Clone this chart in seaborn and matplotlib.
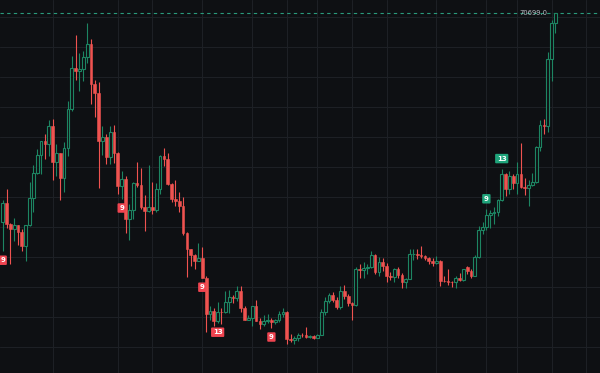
import numpy as np
import pandas as pd
import matplotlib
matplotlib.use("Agg")
import matplotlib.pyplot as plt
import seaborn as sns
from matplotlib.patches import Rectangle

# ---------------- data (weekly candles, thousands of USD) ----------------
week_start = "2021-06-07"
opens = [35.8, 39.0, 35.6, 34.7, 35.3, 34.2, 31.8, 35.3, 39.9, 44.0,
         47.1, 49.3, 48.9, 51.8, 45.9, 47.3, 43.2, 48.2, 54.7, 61.6,
         61.0, 61.4, 63.4, 65.6, 58.8, 57.3, 49.3, 50.1, 46.7, 50.8,
         47.3, 41.8, 43.1, 36.3, 37.9, 42.4, 42.1, 38.3, 37.7, 38.4,
         37.8, 41.3, 46.8, 46.4, 42.2, 39.7, 39.4, 38.5, 34.0, 31.3,
         30.3, 29.4, 29.9, 26.6, 20.6, 21.0, 19.3, 20.9, 20.8, 22.6,
         23.3, 23.2, 24.4, 21.5, 19.55, 19.8, 21.8, 19.4, 18.8, 19.3,
         19.45, 19.2, 19.6, 20.6, 20.9, 16.35, 16.25, 16.45, 17.1, 17.05,
         16.75, 16.85, 16.6, 17.1, 20.9, 22.7, 23.7, 22.9, 21.75, 24.3,
         23.5, 22.4, 22.1, 28.0, 27.8, 28.2, 28.4, 30.3, 27.5, 29.2,
         28.5, 26.9, 26.75, 28.1, 27.1, 25.8, 26.3, 30.5, 30.6, 30.3,
         30.25, 29.8, 29.3, 29.05, 29.4, 26.1, 26.0, 25.85, 25.8, 26.5,
         26.25, 28.3, 27.7, 26.9, 30.0, 34.5, 35.05, 37.1, 37.4, 37.45,
         39.5, 43.9, 41.4, 43.6, 42.3, 43.9, 41.7, 41.6, 42.0, 42.6,
         48.3, 52.1, 51.8, 63.1, 69.0]
highs = [39.5, 41.3, 35.7, 36.6, 35.4, 34.7, 35.4, 42.5, 45.3, 48.1,
         49.4, 50.5, 52.9, 53.0, 48.8, 47.4, 49.2, 56.1, 63.5, 67.1,
         64.0, 64.3, 69.1, 66.3, 59.6, 59.2, 51.9, 50.5, 51.9, 52.1,
         47.6, 44.4, 43.5, 38.9, 42.6, 45.8, 44.8, 40.3, 45.4, 42.6,
         42.3, 47.0, 48.2, 47.4, 42.4, 42.9, 40.8, 40.0, 34.2, 31.3,
         30.6, 32.3, 31.7, 26.9, 21.9, 21.5, 22.5, 21.6, 24.3, 24.6,
         23.7, 25.2, 25.2, 21.8, 20.4, 21.9, 22.8, 19.9, 20.4, 20.5,
         19.9, 19.7, 21.0, 21.5, 21.1, 17.2, 16.8, 17.4, 17.4, 18.4,
         17.0, 16.95, 17.2, 21.4, 23.3, 24.0, 24.2, 23.4, 25.2, 25.3,
         23.9, 22.6, 28.4, 28.9, 29.2, 28.8, 31.0, 30.5, 30.0, 29.8,
         29.0, 27.5, 28.2, 28.4, 27.4, 26.5, 31.4, 31.3, 31.4, 31.8,
         30.4, 30.0, 29.9, 30.2, 29.6, 26.8, 28.1, 26.1, 26.9, 27.4,
         28.0, 28.6, 28.0, 30.4, 35.2, 35.9, 38.0, 37.9, 38.4, 39.7,
         44.7, 43.95, 44.4, 43.8, 45.9, 49.0, 43.2, 42.9, 44.0, 48.6,
         52.8, 53.1, 64.2, 69.5, 70.7]
lows = [31.0, 34.8, 28.8, 32.7, 32.1, 31.0, 29.3, 35.2, 37.5, 43.8,
        43.9, 46.4, 46.8, 42.8, 43.5, 39.6, 40.8, 46.9, 54.4, 59.6,
        57.7, 59.4, 62.3, 55.6, 53.4, 41.5, 47.1, 45.5, 45.6, 45.7,
        40.6, 39.7, 34.0, 32.9, 36.3, 41.7, 38.0, 34.3, 37.5, 37.2,
        37.6, 40.5, 45.2, 42.1, 39.2, 38.5, 37.6, 33.7, 26.7, 28.6,
        28.0, 29.3, 26.5, 17.6, 19.6, 18.6, 19.0, 18.9, 20.7, 20.7,
        22.4, 22.7, 20.8, 19.5, 19.5, 18.5, 19.3, 18.1, 18.5, 19.0,
        18.2, 18.9, 19.2, 20.0, 15.6, 15.8, 15.5, 16.0, 16.7, 16.5,
        16.6, 16.3, 16.6, 17.1, 20.4, 22.3, 22.6, 21.3, 21.4, 23.1,
        21.9, 19.6, 21.9, 26.6, 26.5, 27.2, 28.2, 27.2, 26.9, 27.7,
        25.8, 26.2, 25.9, 26.6, 24.8, 24.8, 26.3, 29.5, 29.7, 29.9,
        29.6, 28.9, 28.6, 28.8, 25.2, 25.8, 25.4, 25.0, 24.9, 26.0,
        26.0, 27.2, 26.6, 26.9, 29.9, 33.9, 34.5, 34.8, 35.6, 36.9,
        39.3, 40.2, 40.6, 41.4, 40.5, 41.5, 40.3, 38.5, 41.8, 42.3,
        47.7, 50.6, 50.9, 59.3, 67.3]
closes = [39.0, 35.6, 34.7, 35.3, 34.2, 31.8, 35.3, 39.9, 44.0, 47.1,
          49.3, 48.9, 51.8, 45.9, 47.3, 43.2, 48.2, 54.7, 61.6, 61.0,
          61.4, 63.4, 65.6, 58.8, 57.3, 49.3, 50.1, 46.7, 50.8, 47.3,
          41.8, 43.1, 36.3, 37.9, 42.4, 42.1, 38.3, 37.7, 38.4, 37.8,
          41.3, 46.8, 46.4, 42.2, 39.7, 39.4, 38.5, 34.0, 31.3, 30.3,
          29.4, 29.9, 26.6, 20.6, 21.0, 19.3, 20.9, 20.8, 22.6, 23.3,
          23.2, 24.4, 21.5, 19.55, 19.8, 21.8, 19.4, 18.8, 19.3, 19.45,
          19.2, 19.6, 20.6, 20.9, 16.3, 16.25, 16.45, 17.1, 17.05, 16.75,
          16.85, 16.6, 17.1, 20.9, 22.7, 23.7, 22.9, 21.75, 24.3, 23.5,
          22.4, 22.1, 28.0, 27.8, 28.2, 28.4, 30.3, 27.5, 29.2, 28.5,
          26.9, 26.75, 28.1, 27.1, 25.8, 26.3, 30.5, 30.6, 30.3, 30.25,
          29.8, 29.3, 29.05, 29.4, 26.1, 26.0, 25.8, 25.8, 26.5, 26.25,
          28.0, 27.7, 26.9, 30.0, 34.5, 35.05, 37.1, 37.4, 37.45, 39.5,
          43.9, 41.4, 43.6, 42.3, 43.9, 41.7, 41.6, 42.0, 42.6, 48.3,
          52.1, 51.8, 63.1, 69.0, 70.699]

# TD sequential labels
td_index = [0, 31, 52, 56, 70, 126, 130]
td_text = ["9", "9", "9", "13", "9", "9", "13"]
td_above = [False, False, False, False, False, True, True]

last_price_label = "70699.0"
price_grid = [15000, 20000, 25000, 30000, 35000, 40000, 45000, 50000, 55000, 60000, 65000, 70000]
time_grid_index = [13, 30, 39, 52, 65, 74, 82, 91, 100, 113, 126, 134, 143, 152]

# ---------------- styling ----------------
BG = "#0e1013"
GRID = "#1d2025"
RED = "#ef5350"
GREEN = "#1d8562"
LBL_RED = "#ef4450"
LBL_GREEN = "#1fa47b"

sns.set_theme(style="dark", rc={"axes.facecolor": BG, "figure.facecolor": BG})

df = pd.DataFrame({
    "date": pd.date_range(week_start, periods=len(opens), freq="7D"),
    "open": np.array(opens) * 1000,
    "high": np.array(highs) * 1000,
    "low": np.array(lows) * 1000,
    "close": np.array(closes) * 1000,
})
df["i"] = np.arange(len(df))

fig = plt.figure(figsize=(6.0, 3.73), dpi=100)
ax = fig.add_axes([0, 0, 1, 1])
ax.set_facecolor(BG)

# grid
for p in price_grid:
    ax.axhline(p, color=GRID, lw=0.8, zorder=0)
for t in time_grid_index:
    ax.axvline(t, color=GRID, lw=0.8, zorder=0)

w = 0.72
up = df[df.close >= df.open]
dn = df[df.close < df.open]

# red candles: full wick + filled body
ax.vlines(dn.i, dn.low, dn.high, color=RED, lw=0.8, zorder=2)
for _, r in dn.iterrows():
    ax.add_patch(Rectangle((r.i - w / 2, r.close), w, r.open - r.close,
                           facecolor=RED, edgecolor=RED, lw=0.4, zorder=3))

# green hollow candles
ax.vlines(up.i, up.close, up.high, color=GREEN, lw=0.8, zorder=2)
ax.vlines(up.i, up.low, up.open, color=GREEN, lw=0.8, zorder=2)
for _, r in up.iterrows():
    h = max(r.close - r.open, 60)
    ax.add_patch(Rectangle((r.i - w / 2, r.open), w, h,
                           facecolor=BG, edgecolor=GREEN, lw=0.8, zorder=3))

# last price dashed line + label
last = df.close.iloc[-1]
ax.axhline(last, color="#2a9a7c", lw=0.8, ls=(0, (3, 3)), zorder=1)
ax.text(142.0, last, last_price_label, color="#b8bcc4", fontsize=4.9,
        ha="right", va="center", zorder=5)

# TD labels
for idx, txt, above in zip(td_index, td_text, td_above):
    r = df.iloc[idx]
    if above:
        ax.annotate(txt, (idx, r.high), xytext=(0, 7.5), textcoords="offset points",
                    ha="center", va="center", color="white", fontsize=5.0,
                    fontweight="bold", zorder=6,
                    bbox=dict(boxstyle="round,pad=0.25,rounding_size=0.15",
                              fc=LBL_GREEN, ec="none"))
    else:
        ax.annotate(txt, (idx, r.low), xytext=(0, -6.5), textcoords="offset points",
                    ha="center", va="center", color="white", fontsize=5.0,
                    fontweight="bold", zorder=6,
                    bbox=dict(boxstyle="round,pad=0.25,rounding_size=0.15",
                              fc=LBL_RED, ec="none"))

ax.set_xlim(-0.7, 155.6)
ax.set_ylim(10699, 72866)
ax.set_xticks([])
ax.set_yticks([])
for s in ax.spines.values():
    s.set_visible(False)
ax.grid(False)

fig.savefig("out.png", dpi=100, facecolor=BG)
